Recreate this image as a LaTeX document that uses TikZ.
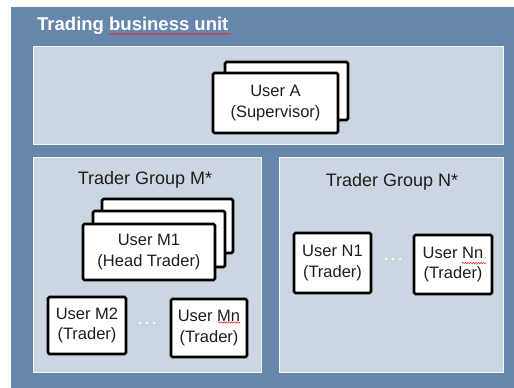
\documentclass[tikz,border=0pt]{standalone}
\usepackage{fontspec}
\setmainfont{Liberation Sans}
\usetikzlibrary{decorations.pathmorphing}
\definecolor{outerblue}{RGB}{103,134,171}
\definecolor{panelblue}{RGB}{204,213,226}
\definecolor{txt}{RGB}{30,30,30}
\definecolor{spell}{RGB}{225,45,45}
\tikzset{
  panel/.style={fill=panelblue, draw=white!80!panelblue, line width=0.6pt, anchor=north west, inner sep=0pt},
  userbox/.style={draw=black, fill=white, line width=2.8pt, rounded corners=1.5pt, align=center,
     text=txt, font=\fontsize{16.5}{20.5}\selectfont, inner sep=0pt},
  grouptitle/.style={text=txt, font=\fontsize{18}{22}\selectfont, anchor=base, inner sep=0pt},
  ellip/.style={fill=white},
  spellmark/.style={draw=spell, line width=0.6pt, decorate, decoration={snake, amplitude=0.7pt, segment length=2.6pt}}
}
\begin{document}
\begin{tikzpicture}[x=1pt,y=-1pt]
\useasboundingbox (0,0) rectangle (514,388);
\fill[outerblue] (11,7) rectangle (514,388);
\node[text=white, font=\bfseries\fontsize{18.5}{22}\selectfont, anchor=base west, inner sep=0pt] (title) at (37,30) {Trading business unit};
\coordinate (sb1) at (109,34); \coordinate (sb2) at (231,34);
\draw[spellmark] (sb1) -- (sb2);

% top panel
\node[panel, minimum width=470pt, minimum height=98pt] (toppanel) at (33,46) {};
\node[userbox, minimum width=123pt, minimum height=58pt] (uAback) at (286.5,91) {};
\node[userbox, minimum width=125pt, minimum height=60pt] (uA) at (275.5,103) {User A\\(Supervisor)};

% group M
\node[panel, minimum width=228pt, minimum height=215pt] (gM) at (33,157) {};
\node[grouptitle] (gMt) at (145,184) {Trader Group M*};
\node[userbox, minimum width=131pt, minimum height=54pt] (m1b) at (167.5,226) {};
\node[userbox, minimum width=132pt, minimum height=56pt] (m1m) at (159,239) {};
\node[userbox, minimum width=132pt, minimum height=56pt] (m1) at (149,252) {User M1\\(Head Trader)};
\node[userbox, minimum width=78pt, minimum height=57pt] (m2) at (87,325.5) {User M2\\(Trader)};
\node[userbox, minimum width=76pt, minimum height=58pt] (mn) at (209,328) {User Mn\\(Trader)};
\coordinate (sm1) at (218,322.5); \coordinate (sm2) at (240,322.5);
\draw[spellmark] (sm1) -- (sm2);
\foreach \dx in {-7,0,7} \fill[ellip] (147+\dx,323) circle (1.4pt);

% group N
\node[panel, minimum width=224pt, minimum height=215pt] (gN) at (279,157) {};
\node[grouptitle] (gNt) at (392,186) {Trader Group N*};
\node[userbox, minimum width=77pt, minimum height=60pt] (n1) at (332.5,263) {User N1\\(Trader)};
\node[userbox, minimum width=78pt, minimum height=59pt] (nn) at (453,264.5) {User Nn\\(Trader)};
\coordinate (sn1) at (462,263); \coordinate (sn2) at (486,263);
\draw[spellmark] (sn1) -- (sn2);
\foreach \dx in {-7,0,7} \fill[ellip] (393+\dx,259) circle (1.4pt);
\end{tikzpicture}
\end{document}
